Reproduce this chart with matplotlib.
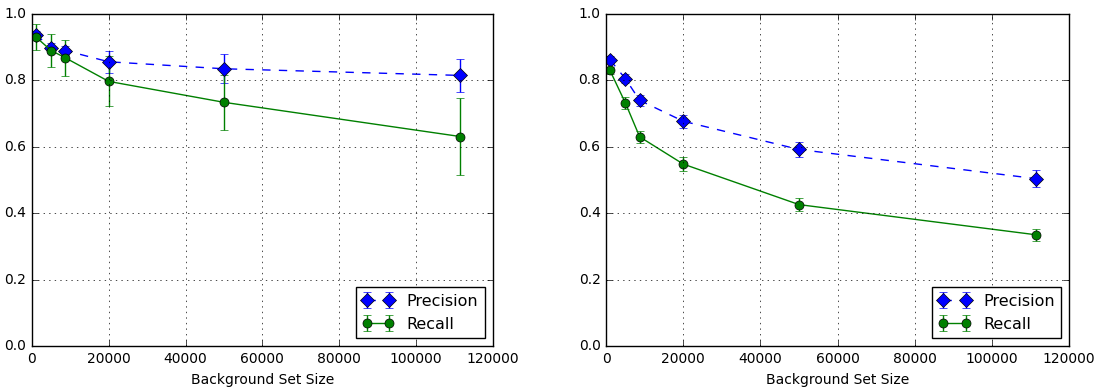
import numpy as np
import matplotlib
matplotlib.use("Agg")
import matplotlib.pyplot as plt

plt.style.use('classic')

# background set sizes (same for both panels)
sizes = [1000, 5000, 8700, 20000, 50000, 111500]

# left panel
prec_l = [0.938, 0.898, 0.890, 0.856, 0.835, 0.815]
prec_l_err = [0.012, 0.015, 0.014, 0.033, 0.044, 0.050]
rec_l = [0.931, 0.890, 0.868, 0.797, 0.734, 0.631]
rec_l_err = [0.040, 0.050, 0.055, 0.075, 0.082, 0.116]

# right panel
prec_r = [0.862, 0.805, 0.740, 0.677, 0.592, 0.504]
prec_r_err = [0.010, 0.014, 0.017, 0.020, 0.022, 0.025]
rec_r = [0.830, 0.732, 0.630, 0.548, 0.426, 0.335]
rec_r_err = [0.010, 0.018, 0.019, 0.022, 0.020, 0.019]

yticks = [0.0, 0.2, 0.4, 0.6, 0.8, 1.0]
xticks = [0, 20000, 40000, 60000, 80000, 100000, 120000]

fig = plt.figure(figsize=(11, 3.88), facecolor='white')
ax1 = fig.add_axes([0.029, 0.108, 0.419, 0.856])
ax2 = fig.add_axes([0.551, 0.108, 0.421, 0.856])

for ax, p, pe, r, re in [(ax1, prec_l, prec_l_err, rec_l, rec_l_err),
                         (ax2, prec_r, prec_r_err, rec_r, rec_r_err)]:
    ax.errorbar(sizes, p, yerr=pe, color='b', ls='--', lw=1, marker='D',
                ms=7, mec='k', mew=0.5, capsize=3, label='Precision')
    ax.errorbar(sizes, r, yerr=re, color='g', ls='-', lw=1, marker='o',
                ms=6.5, mec='k', mew=0.5, capsize=3, label='Recall')
    ax.set_xlim(0, 120000)
    ax.set_ylim(0, 1.0)
    ax.set_xticks(xticks)
    ax.set_yticks(yticks)
    ax.set_xticklabels([str(t) for t in xticks])
    ax.set_yticklabels(['%.1f' % t for t in yticks])
    ax.tick_params(labelsize=10)
    ax.grid(True, ls=':', color='k')
    ax.set_xlabel('Background Set Size', fontsize=10)
    ax.legend(loc=4, numpoints=2, fontsize=11.5)

fig.savefig('out.png', dpi=100, facecolor='white')
